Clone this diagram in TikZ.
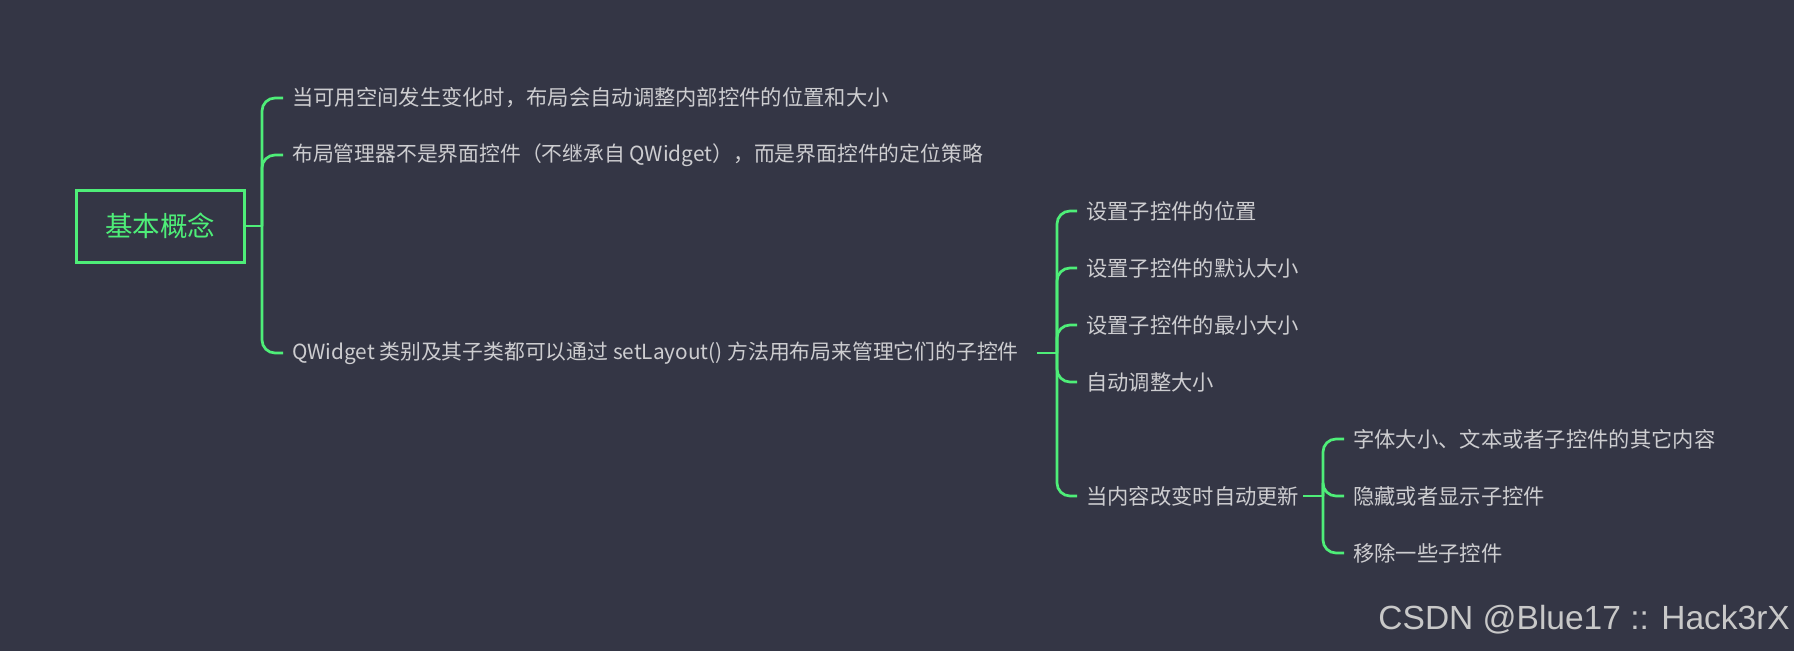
\documentclass[tikz,border=0pt]{standalone}
\usepackage{fontspec}
\setmainfont{Liberation Sans}
\newfontfamily\cjk{Noto Sans CJK SC}
\definecolor{bgc}{RGB}{52,54,69}
\definecolor{grn}{RGB}{78,238,120}
\definecolor{txt}{RGB}{205,205,208}
\definecolor{wm}{RGB}{200,200,200}
\tikzset{
  conn/.style={draw=grn, line width=2.7pt, rounded corners=13pt},
  leaf/.style={anchor=west, inner sep=0pt, text=txt, font=\cjk\fontsize{21.3}{25}\selectfont},
  mixleaf/.style={leaf, font=\cjk\fontsize{20.8}{25}\selectfont},
  rootbox/.style={draw=grn, line width=3pt, minimum width=168pt, minimum height=72pt, text=grn, font=\cjk\fontsize{27.5}{31}\selectfont, inner sep=0pt}
}
\begin{document}
\begin{tikzpicture}[x=1pt,y=-1pt]
\fill[bgc] (0,0) rectangle (1794,651);
\useasboundingbox (0,0) rectangle (1794,651);

\node[rootbox] (root) at (160,226) {基本概念};
\coordinate (j1) at (262,226);
\node[leaf] (a1) at (292,98) {当可用空间发生变化时，布局会自动调整内部控件的位置和大小};
\node[mixleaf] (a2) at (292,155) {布局管理器不是界面控件（不继承自 QWidget），而是界面控件的定位策略};
\node[mixleaf] (a3) at (292,353) {QWidget 类别及其子类都可以通过 setLayout() 方法用布局来管理它们的子控件};

\draw[conn] (root.east) -- (j1);
\draw[conn] (j1) |- ([xshift=-9pt]a1.west);
\draw[conn] (j1) |- ([xshift=-9pt]a2.west);
\draw[conn] (j1) |- ([xshift=-9pt]a3.west);

\coordinate (s2) at (1037,353);
\coordinate (j2) at (1057,353);
\node[leaf] (b1) at (1086,211) {设置子控件的位置};
\node[leaf] (b2) at (1086,268) {设置子控件的默认大小};
\node[leaf] (b3) at (1086,325) {设置子控件的最小大小};
\node[leaf] (b4) at (1086,382) {自动调整大小};
\node[leaf] (b5) at (1086,496) {当内容改变时自动更新};

\draw[conn] (s2) -- (j2);
\foreach \n in {b1,b2,b3,b4,b5}
  \draw[conn] (j2) |- ([xshift=-9pt]\n.west);

\coordinate (s3) at (1303,496);
\coordinate (j3) at (1323,496);
\node[leaf] (c1) at (1353,439) {字体大小、文本或者子控件的其它内容};
\node[leaf] (c2) at (1353,496) {隐藏或者显示子控件};
\node[leaf] (c3) at (1353,553) {移除一些子控件};

\draw[conn] (s3) -- (j3);
\foreach \n in {c1,c2,c3}
  \draw[conn] (j3) |- ([xshift=-9pt]\n.west);

\node[anchor=east, inner sep=0pt, text=wm, font=\fontsize{33.5}{38}\selectfont] (wmk) at (1790,620) {CSDN @Blue17 :: Hack3rX};
\end{tikzpicture}
\end{document}
